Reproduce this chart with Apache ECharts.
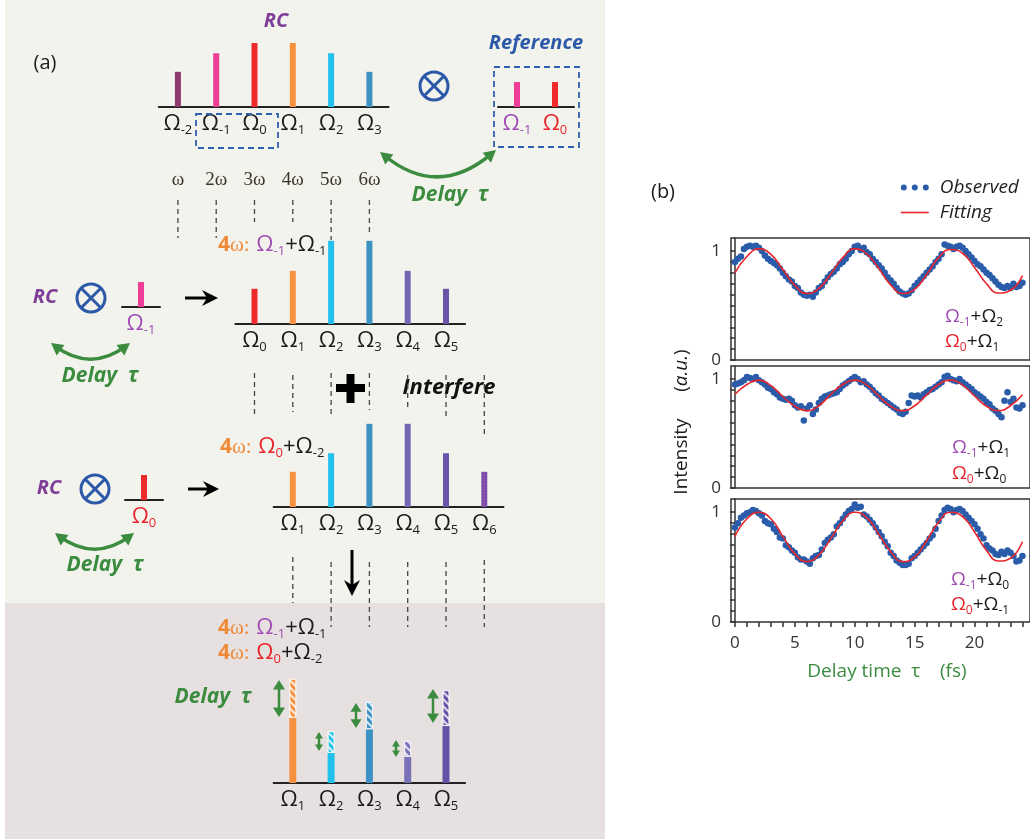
<!DOCTYPE html>
<html>
<head>
<meta charset="UTF-8">
<title>RC interference schematic and delay scans</title>
<script src="https://cdn.jsdelivr.net/npm/echarts@6.0.0/dist/echarts.min.js"></script>
<style>
  html, body { margin: 0; padding: 0; background: #fff; }
  #main { width: 1030px; height: 839px; }
</style>
</head>
<body>
<div id="main"></div>
<script>
// ---------- panel (a): schematic spectra, relative amplitudes ----------
var rcIdx = ['-2', '-1', '0', '1', '2', '3'];
var rcAmp = [0.55, 0.84, 1.0, 1.0, 0.84, 0.55];
var refIdx = ['-1', '0'];
var refAmp = [0.39, 0.39];
var probeAmp = 0.39;
var mixAIdx = ['0', '1', '2', '3', '4', '5'];
var mixAAmp = [0.55, 0.83, 1.3, 1.3, 0.83, 0.55];
var mixBIdx = ['1', '2', '3', '4', '5', '6'];
var mixBAmp = [0.55, 0.84, 1.3, 1.3, 0.84, 0.55];
var sumIdx = ['1', '2', '3', '4', '5'];
var sumSteady = [1.02, 0.47, 0.84, 0.41, 0.89];
var sumSwing = [0.61, 0.34, 0.43, 0.25, 0.56];
var harmonics = ['ω', '2ω', '3ω', '4ω', '5ω', '6ω'];

// ---------- panel (b): delay scans ----------
var delay = [
  0, 0.25, 0.5, 0.75, 1, 1.25, 1.5, 1.75, 2, 2.25, 2.5, 2.75, 3, 3.25, 3.5, 3.75,
  4, 4.25, 4.5, 4.75, 5, 5.25, 5.5, 5.75, 6, 6.25, 6.5, 6.75, 7, 7.25, 7.5, 7.75,
  8, 8.25, 8.5, 8.75, 9, 9.25, 9.5, 9.75, 10, 10.25, 10.5, 10.75, 11, 11.25, 11.5, 11.75,
  12, 12.25, 12.5, 12.75, 13, 13.25, 13.5, 13.75, 14, 14.25, 14.5, 14.75, 15, 15.25, 15.5, 15.75,
  16, 16.25, 16.5, 16.75, 17, 17.25, 17.5, 17.75, 18, 18.25, 18.5, 18.75, 19, 19.25, 19.5, 19.75,
  20, 20.25, 20.5, 20.75, 21, 21.25, 21.5, 21.75, 22, 22.25, 22.5, 22.75, 23, 23.25, 23.5, 23.75, 24
];
var obsA = [ // Ω-1+Ω2 / Ω0+Ω1
  0.90, 0.93, 0.95, 1.02, 1.04, 1.05, 1.04, 1.05, 1.03, 1.00, 0.96, 0.93, 0.91, 0.89, 0.87, 0.84,
  0.80, 0.77, 0.74, 0.72, 0.68, 0.66, 0.62, 0.60, 0.59, 0.60, 0.58, 0.62, 0.66, 0.68, 0.72, 0.76,
  0.79, 0.81, 0.84, 0.88, 0.90, 0.93, 0.97, 1.00, 1.04, 1.05, 1.01, 1.03, 0.99, 0.97, 0.93, 0.90,
  0.87, 0.84, 0.80, 0.76, 0.73, 0.70, 0.66, 0.63, 0.61, 0.60, 0.61, 0.64, 0.68, 0.71, 0.74, 0.77,
  0.80, 0.83, 0.86, 0.90, 0.93, 0.97, 1.06, 1.05, 1.04, 1.02, 1.04, 1.05, 1.03, 1.00, 0.97, 0.94,
  0.91, 0.88, 0.86, 0.83, 0.80, 0.78, 0.75, 0.72, 0.69, 0.67, 0.66, 0.68, 0.66, 0.70, 0.67, 0.68, 0.71
];
var obsB = [ // Ω-1+Ω1 / Ω0+Ω0
  0.95, 0.96, 0.97, 0.99, 1.02, 1.01, 1.00, 1.02, 0.99, 0.97, 0.95, 0.92, 0.91, 0.88, 0.86, 0.83,
  0.82, 0.81, 0.82, 0.80, 0.76, 0.74, 0.75, 0.62, 0.73, 0.76, 0.68, 0.72, 0.78, 0.82, 0.84, 0.85,
  0.86, 0.87, 0.88, 0.91, 0.94, 0.96, 0.98, 1.00, 1.02, 1.00, 0.97, 0.98, 0.95, 0.93, 0.90, 0.87,
  0.85, 0.82, 0.80, 0.78, 0.76, 0.74, 0.72, 0.69, 0.68, 0.70, 0.78, 0.85, 0.84, 0.85, 0.83, 0.86,
  0.88, 0.90, 0.91, 0.93, 0.95, 0.97, 1.02, 1.03, 1.00, 0.99, 0.98, 1.00, 0.97, 0.95, 0.93, 0.91,
  0.88, 0.86, 0.84, 0.82, 0.79, 0.77, 0.73, 0.71, 0.68, 0.65, 0.80, 0.88, 0.79, 0.82, 0.74, 0.73, 0.76
];
var obsC = [ // Ω-1+Ω0 / Ω0+Ω-1
  0.86, 0.90, 0.95, 0.97, 0.99, 1.00, 1.02, 1.01, 0.99, 0.97, 0.92, 0.90, 0.89, 0.85, 0.82, 0.77,
  0.76, 0.70, 0.68, 0.65, 0.63, 0.59, 0.57, 0.57, 0.55, 0.53, 0.58, 0.60, 0.61, 0.66, 0.72, 0.75,
  0.77, 0.80, 0.87, 0.90, 0.94, 0.98, 1.01, 1.03, 1.07, 1.04, 1.05, 0.98, 0.96, 0.93, 0.90, 0.86,
  0.82, 0.78, 0.73, 0.69, 0.63, 0.60, 0.56, 0.54, 0.52, 0.52, 0.53, 0.58, 0.60, 0.63, 0.66, 0.69,
  0.72, 0.76, 0.79, 0.85, 0.92, 0.97, 1.02, 1.04, 1.03, 1.00, 1.02, 1.03, 1.01, 0.98, 0.95, 0.92,
  0.89, 0.85, 0.80, 0.76, 0.70, 0.67, 0.65, 0.62, 0.61, 0.64, 0.62, 0.65, 0.63, 0.60, 0.55, 0.56, 0.60
];
var fitDelay = [0, 1, 2, 3, 4, 5, 6, 7, 8, 9, 10, 11, 12, 13, 14, 15, 16, 17, 18, 19, 20, 21, 22, 23, 24];
var fitA = [0.80, 0.95, 1.02, 0.97, 0.83, 0.685, 0.61, 0.655, 0.79, 0.94, 1.02, 0.975, 0.84, 0.69, 0.61, 0.65, 0.785, 0.94, 1.015, 0.98, 0.85, 0.70, 0.615, 0.64, 0.775];
var fitB = [0.86, 0.95, 0.99, 0.94, 0.84, 0.75, 0.71, 0.755, 0.86, 0.95, 0.99, 0.945, 0.845, 0.75, 0.71, 0.755, 0.855, 0.95, 0.99, 0.945, 0.845, 0.75, 0.71, 0.755, 0.855];
var fitC = [0.78, 0.94, 1.00, 0.94, 0.78, 0.62, 0.55, 0.61, 0.76, 0.92, 1.00, 0.95, 0.80, 0.64, 0.55, 0.59, 0.74, 0.91, 1.00, 0.96, 0.82, 0.65, 0.555, 0.58, 0.73];
var xTickVals = [0, 1, 2, 3, 4, 5, 6, 7, 8, 9, 10, 11, 12, 13, 14, 15, 16, 17, 18, 19, 20, 21, 22, 23, 24];
var xLabelVals = [0, 5, 10, 15, 20];
var yTickVals = [0, 0.1, 0.2, 0.3, 0.4, 0.5, 0.6, 0.7, 0.8, 0.9, 1];
var yLabelVals = [0, 1];
var scanLabels = [['-1', '2', '0', '1'], ['-1', '1', '0', '0'], ['-1', '0', '0', '-1']];

// ---------- styles ----------
var SANS = '"Open Sans", "Noto Sans", "DejaVu Sans", sans-serif';
var SERIF = '"Liberation Serif", "DejaVu Serif", serif';
var GREEN = '#3b8c3f', PURPLE = '#a04db5', RED = '#e8262b', ORANGE = '#f08a36', INK = '#1a1a1a';
var BLUE = '#2c58a8', BLUEDOT = '#2a5caa';
var omegaColor = { '-2': '#8e3a6d', '-1': '#ee3d96', '0': '#ee2a2c', '1': '#f7913f', '2': '#22c0ea',
  '3': '#3c92c2', '4': '#7366b2', '5': '#6a55a8', '6': '#7a4ba6' };
var sumColor = { '1': '#f7913f', '2': '#22c0ea', '3': '#3c92c2', '4': '#7a70b8', '5': '#6552a6' };

var myChart = echarts.init(document.getElementById('main'));

// column layout of the schematic
var COL0 = 254.5, COL = 38.3, PX = 64;
function colX(k) { return COL0 + COL * k; }
function barGrid(cx0, step, n, base, yMax) {
  return { left: cx0 - step / 2, width: step * n, top: base - yMax * PX, height: yMax * PX };
}

var omegaRich = {
  o: { fontFamily: SANS, fontSize: 22, color: INK, lineHeight: 26 },
  s: { fontFamily: SANS, fontSize: 13, color: INK, lineHeight: 14, verticalAlign: 'bottom' },
  po: { fontFamily: SANS, fontSize: 22, color: PURPLE, lineHeight: 26 },
  ps: { fontFamily: SANS, fontSize: 13, color: PURPLE, lineHeight: 14, verticalAlign: 'bottom' },
  ro: { fontFamily: SANS, fontSize: 22, color: RED, lineHeight: 26 },
  rs: { fontFamily: SANS, fontSize: 13, color: RED, lineHeight: 14, verticalAlign: 'bottom' }
};
function omegaFmt(v) { return '{o|Ω}{s|' + v + '}'; }
function colorFmt(v) { return v === '-1' ? '{po|Ω}{ps|-1}' : '{ro|Ω}{rs|' + v + '}'; }

var grids = [
  barGrid(colX(-2), COL, 6, 107, 1.1),
  barGrid(517, 38, 2, 107, 1.1),
  barGrid(141, 38, 1, 307, 1.1),
  barGrid(colX(0), COL, 6, 324, 1.4),
  barGrid(144, 38, 1, 500, 1.1),
  barGrid(colX(1), COL, 6, 507, 1.4),
  barGrid(colX(1), COL, 5, 783, 1.8)
];
var barMax = [1.1, 1.1, 1.1, 1.4, 1.1, 1.4, 1.8];
var barCats = [rcIdx, refIdx, ['-1'], mixAIdx, ['0'], mixBIdx, sumIdx];
var barFmts = [omegaFmt, colorFmt, colorFmt, omegaFmt, colorFmt, omegaFmt, omegaFmt];

var xAxes = [], yAxes = [];
barCats.forEach(function (cats, g) {
  xAxes.push({
    gridIndex: g, type: 'category', data: cats,
    axisLine: { lineStyle: { color: '#222', width: 2 } },
    axisTick: { show: false },
    axisLabel: { interval: 0, margin: 4, formatter: barFmts[g], rich: omegaRich }
  });
  yAxes.push({ gridIndex: g, type: 'value', min: 0, max: barMax[g], show: false });
});

// scan grids
var scanTops = [238, 366, 499];
var scanHeights = [122, 122, 123];
scanTops.forEach(function (t, i) {
  var g = grids.length;
  grids.push({ left: 731, top: t, width: 302, height: scanHeights[i], show: true,
    borderColor: '#333', borderWidth: 1.5 });
  xAxes.push({
    gridIndex: g, type: 'value', min: -0.33, max: 24.63, show: i === 2, offset: 3,
    axisLine: { show: false },
    axisTick: { show: true, length: 5, customValues: xTickVals, lineStyle: { color: '#333', width: 1.5 } },
    axisLabel: { customValues: xLabelVals, fontFamily: SANS, fontSize: 17, color: '#333', margin: 10 },
    splitLine: { show: false }
  });
  yAxes.push({
    gridIndex: g, type: 'value', min: 0, max: 1.12,
    axisLine: { show: true, lineStyle: { color: '#333', width: 1.5 } },
    axisTick: { show: true, length: 5, customValues: yTickVals, lineStyle: { color: '#333', width: 1.5 } },
    axisLabel: { customValues: yLabelVals, fontFamily: SANS, fontSize: 17, color: '#333', margin: 10 },
    splitLine: { show: false }
  });
});

function barData(idx, vals, colors) {
  return vals.map(function (v, i) { return { value: v, itemStyle: { color: colors[idx[i]] } }; });
}
var hatch = { symbol: 'rect', symbolSize: 1, dashArrayX: [1, 0], dashArrayY: [2, 3], rotation: Math.PI / 4, color: 'rgba(255,255,255,0.8)' };
var dots = { symbol: 'circle', symbolSize: 0.6, dashArrayX: [2, 1], dashArrayY: [2, 1], color: 'rgba(255,255,255,0.35)' };

var mixBData = barData(mixBIdx, mixBAmp, omegaColor);
mixBData[5].itemStyle.decal = dots;

var series = [
  { type: 'bar', xAxisIndex: 0, yAxisIndex: 0, barWidth: 6, silent: true, data: barData(rcIdx, rcAmp, omegaColor) },
  { type: 'bar', xAxisIndex: 1, yAxisIndex: 1, barWidth: 6, silent: true, data: barData(refIdx, refAmp, omegaColor) },
  { type: 'bar', xAxisIndex: 2, yAxisIndex: 2, barWidth: 6, silent: true, data: barData(['-1'], [probeAmp], omegaColor) },
  { type: 'bar', xAxisIndex: 3, yAxisIndex: 3, barWidth: 6, silent: true, data: barData(mixAIdx, mixAAmp, omegaColor) },
  { type: 'bar', xAxisIndex: 4, yAxisIndex: 4, barWidth: 6, silent: true, data: barData(['0'], [probeAmp], omegaColor) },
  { type: 'bar', xAxisIndex: 5, yAxisIndex: 5, barWidth: 6, silent: true, data: mixBData },
  { type: 'bar', xAxisIndex: 6, yAxisIndex: 6, barWidth: 7, stack: 'sum', silent: true, data: barData(sumIdx, sumSteady, sumColor) },
  { type: 'bar', xAxisIndex: 6, yAxisIndex: 6, barWidth: 7, stack: 'sum', silent: true,
    data: sumSwing.map(function (v, i) {
      var c = sumColor[sumIdx[i]];
      return { value: v, itemStyle: { color: c, borderColor: 'rgba(255,255,255,0.6)', borderWidth: 1, decal: hatch } };
    }) }
];

var obsSets = [obsA, obsB, obsC], fitSets = [fitA, fitB, fitC];
obsSets.forEach(function (obs, p) {
  var ax = 7 + p;
  series.push({
    type: 'scatter', name: 'Observed', xAxisIndex: ax, yAxisIndex: ax, symbolSize: 6.5,
    itemStyle: { color: BLUEDOT, opacity: 1 }, silent: true,
    data: delay.map(function (t, i) { return [t, obs[i]]; })
  });
  series.push({
    type: 'line', name: 'Fitting', xAxisIndex: ax, yAxisIndex: ax, smooth: true, symbol: 'none',
    lineStyle: { color: RED, width: 1.6 }, itemStyle: { color: RED }, silent: true,
    data: fitDelay.map(function (t, i) { return [t, fitSets[p][i]]; })
  });
});

// ---------- annotation helpers ----------
function T(x, y, text, st) {
  return { type: 'text', x: x, y: y, z: 10, style: Object.assign({ text: text, textAlign: 'center',
    textVerticalAlign: 'middle', fontFamily: SANS, fill: INK }, st || {}) };
}
function boldItalic(size, color) { return { fontSize: size, fontWeight: 'bold', fontStyle: 'italic', fill: color }; }
function head(tx, ty, dx, dy, len, wid, color) {
  var m = Math.sqrt(dx * dx + dy * dy); dx /= m; dy /= m;
  var bx = tx - dx * len, by = ty - dy * len;
  return { type: 'polygon', z: 10, shape: { points: [[tx, ty], [bx - dy * wid / 2, by + dx * wid / 2], [bx + dy * wid / 2, by - dx * wid / 2]] },
    style: { fill: color } };
}
function curvedArrow(x1, y1, x2, y2, cy) {
  var cx = (x1 + x2) / 2;
  return [
    { type: 'bezierCurve', z: 10, shape: { x1: x1 + (cx - x1) * 0.08, y1: y1 + (cy - y1) * 0.08,
      x2: x2 + (cx - x2) * 0.08, y2: y2 + (cy - y2) * 0.08, cpx1: cx, cpy1: cy },
      style: { stroke: GREEN, lineWidth: 3.5, fill: 'none' } },
    head(x1, y1, x1 - cx, y1 - cy, 12, 13, GREEN),
    head(x2, y2, x2 - cx, y2 - cy, 12, 13, GREEN)
  ];
}
function vArrow(x, yTop, yBot, wid) {
  return [
    { type: 'line', z: 10, shape: { x1: x, y1: yTop + 5, x2: x, y2: yBot - 5 }, style: { stroke: GREEN, lineWidth: 2.5 } },
    head(x, yTop, 0, -1, wid * 0.8, wid, GREEN),
    head(x, yBot, 0, 1, wid * 0.8, wid, GREEN)
  ];
}
function boldArrow(x1, y1, x2, y2) {
  var dx = x2 - x1, dy = y2 - y1, m = Math.sqrt(dx * dx + dy * dy); dx /= m; dy /= m;
  var px = -dy, py = dx;
  var bx = x2 - dx * 16, by = y2 - dy * 16, nx = x2 - dx * 11, ny = y2 - dy * 11;
  return [
    { type: 'line', z: 10, shape: { x1: x1, y1: y1, x2: nx, y2: ny }, style: { stroke: '#000', lineWidth: 3 } },
    { type: 'polygon', z: 10, shape: { points: [[x2, y2], [bx + px * 8, by + py * 8], [nx, ny], [bx - px * 8, by - py * 8]] },
      style: { fill: '#000' } }
  ];
}
function otimes(cx, cy) {
  var r = 14, d = r * 0.68;
  return [
    { type: 'circle', z: 10, shape: { cx: cx, cy: cy, r: r }, style: { fill: 'none', stroke: BLUE, lineWidth: 3 } },
    { type: 'line', z: 10, shape: { x1: cx - d, y1: cy - d, x2: cx + d, y2: cy + d }, style: { stroke: BLUE, lineWidth: 3 } },
    { type: 'line', z: 10, shape: { x1: cx - d, y1: cy + d, x2: cx + d, y2: cy - d }, style: { stroke: BLUE, lineWidth: 3 } }
  ];
}
function dashV(x, a, b) {
  return { type: 'line', z: 10, shape: { x1: x, y1: a, x2: x, y2: b }, style: { stroke: '#444', lineWidth: 1.3, lineDash: [5, 4] } };
}
function dashBox(x, y, w, h) {
  return { type: 'rect', z: 10, shape: { x: x, y: y, width: w, height: h }, style: { fill: 'none', stroke: '#3060b0', lineWidth: 1.8, lineDash: [6, 4] } };
}
var lineRich = {
  n: { fontFamily: SANS, fontSize: 21, fontWeight: 'bold', fill: ORANGE },
  w: { fontFamily: SERIF, fontSize: 21, fill: ORANGE },
  po: { fontFamily: SANS, fontSize: 22, fill: PURPLE, lineHeight: 26 },
  ps: { fontFamily: SANS, fontSize: 13, fill: PURPLE, lineHeight: 14, verticalAlign: 'bottom' },
  ro: { fontFamily: SANS, fontSize: 22, fill: RED, lineHeight: 26 },
  rs: { fontFamily: SANS, fontSize: 13, fill: RED, lineHeight: 14, verticalAlign: 'bottom' },
  ko: { fontFamily: SANS, fontSize: 22, fill: INK, lineHeight: 26 },
  ks: { fontFamily: SANS, fontSize: 13, fill: INK, lineHeight: 14, verticalAlign: 'bottom' }
};
function pairText(a, b) {
  return (a === '-1' ? '{po|Ω}{ps|-1}' : '{ro|Ω}{rs|' + a + '}') + '{ko|+Ω}{ks|' + b + '}';
}
function fourOmega(x, y, a, b) {
  return { type: 'text', x: x, y: y, z: 10, style: { text: '{n|4}{w|ω:}  ' + pairText(a, b), rich: lineRich,
    textAlign: 'left', textVerticalAlign: 'middle' } };
}
var scanRich = {
  po: { fontFamily: SANS, fontSize: 19, fill: PURPLE, lineHeight: 24 },
  ps: { fontFamily: SANS, fontSize: 12, fill: PURPLE, lineHeight: 12, verticalAlign: 'bottom' },
  ro: { fontFamily: SANS, fontSize: 19, fill: RED, lineHeight: 24 },
  rs: { fontFamily: SANS, fontSize: 12, fill: RED, lineHeight: 12, verticalAlign: 'bottom' },
  ko: { fontFamily: SANS, fontSize: 19, fill: INK, lineHeight: 24 },
  ks: { fontFamily: SANS, fontSize: 12, fill: INK, lineHeight: 12, verticalAlign: 'bottom' }
};
function scanText(x, y, a, b) {
  return { type: 'text', x: x, y: y, z: 10, style: { text: pairText(a, b), rich: scanRich, textAlign: 'left', textVerticalAlign: 'middle' } };
}

var gfx = [
  { type: 'rect', z: -10, shape: { x: 5, y: 0, width: 600, height: 603 }, style: { fill: '#f3f3ee' } },
  { type: 'rect', z: -10, shape: { x: 5, y: 603, width: 600, height: 236 }, style: { fill: '#e7e0e0' } },
  T(45, 63, '(a)', { fontSize: 20 }),
  T(276, 21, 'RC', boldItalic(20, '#7f3f98')),
  T(536, 43, 'Reference', boldItalic(20, BLUE)),
  dashBox(196, 114, 82, 34),
  dashBox(494, 67, 85, 80),
  T(450, 195, 'Delay  τ', boldItalic(21, GREEN)),
  T(45, 297, 'RC', boldItalic(20, '#7f3f98')),
  T(49, 488, 'RC', boldItalic(20, '#7f3f98')),
  T(100, 376, 'Delay  τ', boldItalic(21, GREEN)),
  T(105, 565, 'Delay  τ', boldItalic(21, GREEN)),
  T(213, 697, 'Delay  τ', boldItalic(21, GREEN)),
  T(449, 388, 'Interfere', boldItalic(22, '#111')),
  { type: 'rect', z: 10, shape: { x: 336, y: 384, width: 29, height: 8 }, style: { fill: '#000' } },
  { type: 'rect', z: 10, shape: { x: 346.5, y: 374, width: 8, height: 29 }, style: { fill: '#000' } },
  fourOmega(218, 245, '-1', '-1'),
  fourOmega(220, 447, '0', '-2'),
  fourOmega(218, 628, '-1', '-1'),
  fourOmega(218, 653, '0', '-2')
];
harmonics.forEach(function (h, i) {
  gfx.push(T(colX(i - 2), 180, h, { fontFamily: SERIF, fontSize: 19, fill: '#3b3627' }));
});
[[-2, 200, 238], [-1, 200, 238], [0, 200, 222], [1, 200, 222], [2, 200, 240], [3, 200, 233]].forEach(function (d) {
  gfx.push(dashV(colX(d[0]), d[1], d[2]));
});
[[0, 373, 418], [1, 375, 412], [2, 373, 418], [3, 373, 410], [4, 375, 410], [5, 375, 418], [6, 375, 437]].forEach(function (d) {
  gfx.push(dashV(colX(d[0]), d[1], d[2]));
});
[[1, 557, 603], [2, 562, 627], [3, 562, 627], [4, 562, 627], [5, 562, 627], [6, 560, 627]].forEach(function (d) {
  gfx.push(dashV(colX(d[0]), d[1], d[2]));
});
gfx = gfx.concat(
  otimes(434, 86), otimes(91, 298), otimes(95, 489),
  curvedArrow(380, 152, 496, 150, 199),
  curvedArrow(51, 343, 130, 343, 373),
  curvedArrow(55, 533, 134, 533, 563),
  boldArrow(185, 298, 218, 298),
  boldArrow(188, 489, 219, 489),
  boldArrow(352, 550, 352, 596),
  vArrow(279, 680, 717, 12), vArrow(319, 732, 751, 8), vArrow(356, 703, 728, 11),
  vArrow(396, 740, 757, 8), vArrow(433, 689, 723, 12)
);

// panel (b) texts
gfx.push(T(663, 192, '(b)', { fontSize: 20 }));
gfx.push({ type: 'text', x: 682, y: 422, rotation: Math.PI / 2, z: 10,
  style: { text: '{n|Intensity}        {n|(}{i|a.u.}{n|)}', textAlign: 'center', textVerticalAlign: 'middle',
    rich: { n: { fontFamily: SANS, fontSize: 19, fill: INK }, i: { fontFamily: SANS, fontSize: 19, fontStyle: 'italic', fill: INK } } } });
gfx.push(T(887, 672, 'Delay time  τ    (fs)', { fontSize: 19, fill: GREEN }));
var scanYs = [[317, 342], [448, 474], [580, 605]];
var scanXs = [945, 952, 951];
scanLabels.forEach(function (l, i) {
  gfx.push(scanText(scanXs[i], scanYs[i][0], l[0], l[1]));
  gfx.push(scanText(scanXs[i], scanYs[i][1], l[2], l[3]));
});

var DOTS = 'path://M0,3a3,3 0 1,0 6,0a3,3 0 1,0 -6,0M11,3a3,3 0 1,0 6,0a3,3 0 1,0 -6,0M22,3a3,3 0 1,0 6,0a3,3 0 1,0 -6,0Z';

var option = {
  animation: false,
  backgroundColor: '#ffffff',
  grid: grids,
  xAxis: xAxes,
  yAxis: yAxes,
  legend: {
    left: 895, top: 173, orient: 'vertical', itemWidth: 28, itemHeight: 6, itemGap: 6,
    selectedMode: false,
    textStyle: { fontFamily: SANS, fontSize: 19, fontStyle: 'italic', color: '#222', padding: [0, 0, 0, 6] },
    data: [
      { name: 'Observed', icon: DOTS },
      { name: 'Fitting', itemStyle: { opacity: 0 }, lineStyle: { color: RED, width: 1.6 } }
    ]
  },
  series: series,
  graphic: gfx
};
myChart.setOption(option);
</script>
</body>
</html>
